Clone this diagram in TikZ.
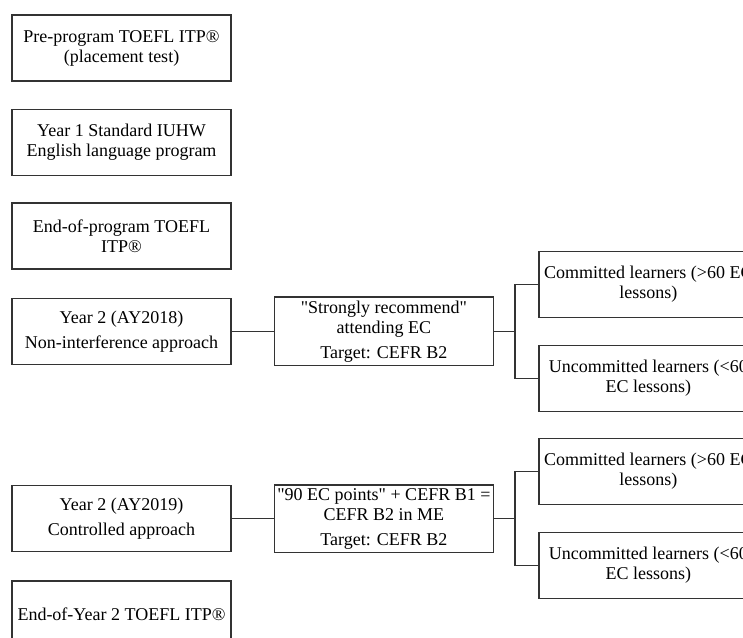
\documentclass[tikz,border=0pt]{standalone}
\usepackage{fontspec}
\setmainfont{Liberation Serif}[Ligatures=TeXOff]
\usetikzlibrary{positioning}

\begin{document}
\begin{tikzpicture}[x=1pt, y=1pt, line width=1.4pt,
    stage/.style={draw=black!80, rectangle, minimum width=219pt, minimum height=66pt,
        inner xsep=2pt, align=center, font=\fontsize{18}{20}\selectfont},
    plan/.style={stage},
    group/.style={stage, anchor=west},
    link/.style={draw=black!80}]
    \useasboundingbox (0,0) rectangle (743,-637);
    \clip (0,0) rectangle (743,-637);

    % left column
    \node [stage] (pre) at (121.5,-48) {Pre-program TOEFL ITP®\\(placement test)};
    \node [stage, below=27pt of pre] (yrone) {Year 1 Standard IUHW\\English language program};
    \node [stage, below=26pt of yrone] (endone) {End-of-program TOEFL\\ITP®};
    \node [stage, below=28pt of endone] (yr18) {Year 2 (AY2018)\\[5pt]Non-interference approach};
    \node [stage, below=120pt of yr18] (yr19) {Year 2 (AY2019)\\[5pt]Controlled approach};
    \node [stage, below=28pt of yr19] (endtwo) {End-of-Year 2 TOEFL ITP®};

    % AY2018 branch
    \node [plan, right=42pt of yr18] (rec18) {"Strongly recommend"\\attending EC\\[5pt]Target: CEFR B2};
    \coordinate (fork18) at ([xshift=21pt]rec18.east);
    \node [group] (com18) at ([xshift=44pt, yshift=47pt]rec18.east) {Committed learners (>60 EC\\lessons)};
    \node [group] (unc18) at ([xshift=44pt, yshift=-47pt]rec18.east) {Uncommitted learners (<60\\EC lessons)};

    % AY2019 branch
    \node [plan, right=42pt of yr19] (rec19) {"90 EC points" + CEFR B1 =\\CEFR B2 in ME\\[5pt]Target: CEFR B2};
    \coordinate (fork19) at ([xshift=21pt]rec19.east);
    \node [group] (com19) at ([xshift=44pt, yshift=47pt]rec19.east) {Committed learners (>60 EC\\lessons)};
    \node [group] (unc19) at ([xshift=44pt, yshift=-47pt]rec19.east) {Uncommitted learners (<60\\EC lessons)};

    \draw [link] (yr18) -- (rec18);
    \draw [link] (rec18) -- (fork18);
    \draw [link] (com18.west) -| (fork18) |- (unc18.west);
    \draw [link] (yr19) -- (rec19);
    \draw [link] (rec19) -- (fork19);
    \draw [link] (com19.west) -| (fork19) |- (unc19.west);
\end{tikzpicture}
\end{document}
